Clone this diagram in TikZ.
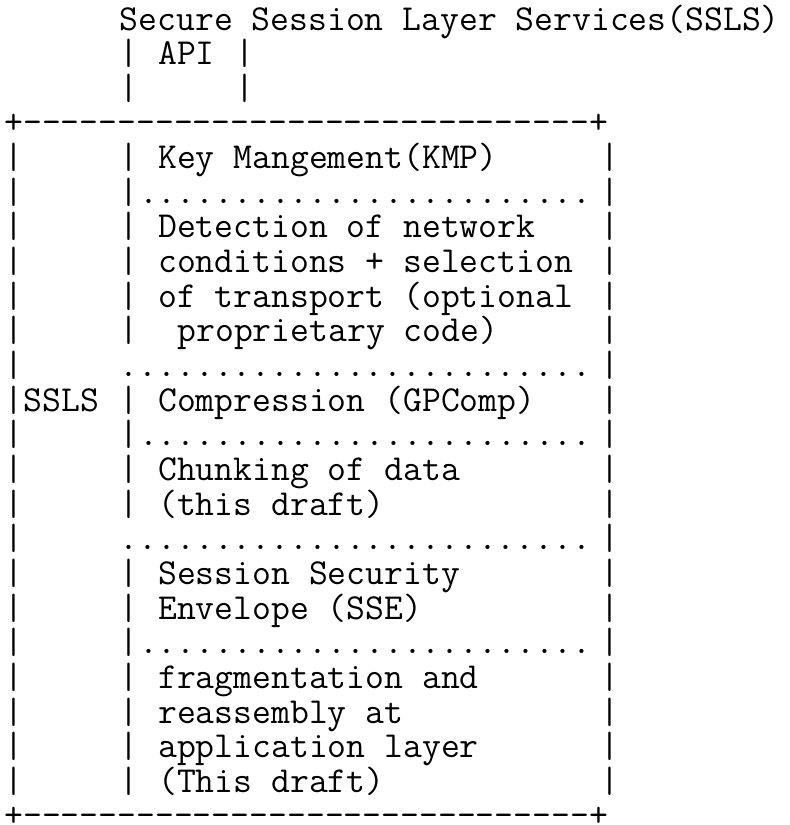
\documentclass[tikz,border=0pt]{standalone}
\usepackage{tikz}

\begin{document}
\begin{tikzpicture}[x=9.615pt, y=-17.325pt, txt/.style={inner sep=0pt, outer sep=0pt, anchor=base west, font=\ttfamily\fontsize{18.31pt}{20pt}\selectfont}]
\useasboundingbox (-2.2pt,-397.5pt) rectangle (392.3pt,15pt);

% header and API
\node[txt] (title) at (6,0) {Secure Session Layer Services(SSLS)};
\node[txt] (api) at (8,1) {API};
\foreach \r in {1,2} {
    \node[txt] (apiL\r) at (6,\r) {|};
    \node[txt] (apiR\r) at (12,\r) {|};
}

% frame
\node[txt] (top) at (0,3) {+------------------------------+};
\node[txt] (bottom) at (0,23) {+------------------------------+};
\foreach \r in {4,...,22} {
    \node[txt] (L\r) at (0,\r) {|};
    \node[txt] (R\r) at (31,\r) {|};
}
\foreach \r in {4,5,6,7,8,9,11,12,13,14,16,17,18,19,20,21,22}
    \node[txt] (I\r) at (6,\r) {|};
\node[txt] (ssls) at (1,11) {SSLS};

% separators
\foreach \r/\c/\t in {5/7/{........................}, 10/6/{.........................}, 12/7/{........................}, 15/6/{.........................}, 18/7/{........................}}
    \node[txt] (sep\r) at (\c,\r) {\t};

% layers
\foreach \r/\c/\t in {4/8/{Key Mangement(KMP)}, 6/8/{Detection of network}, 7/8/{conditions + selection}, 8/8/{of transport (optional}, 9/9/{proprietary code)}, 11/8/{Compression (GPComp)}, 13/8/{Chunking of data}, 14/8/{(this draft)}, 16/8/{Session Security}, 17/8/{Envelope (SSE)}, 19/8/{fragmentation and}, 20/8/{reassembly at}, 21/8/{application layer}, 22/8/{(This draft)}}
    \node[txt] (layer\r) at (\c,\r) {\t};
\end{tikzpicture}
\end{document}
